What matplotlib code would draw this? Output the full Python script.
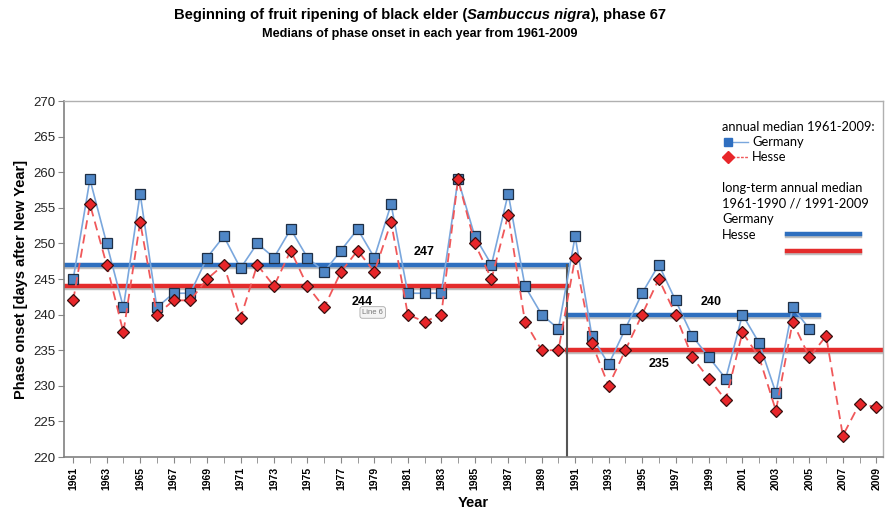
import numpy as np
import matplotlib
matplotlib.use("Agg")
import matplotlib.pyplot as plt
import matplotlib.patheffects as pe
from matplotlib.lines import Line2D

# annual medians of phase onset (days after New Year)
years = list(range(1961, 2010))
germany = [245, 259, 250, 241, 257, 241, 243, 243, 248, 251,
           246.5, 250, 248, 252, 248, 246, 249, 252, 248, 255.5,
           243, 243, 243, 259, 251, 247, 257, 244, 240, 238,
           251, 237, 233, 238, 243, 247, 242, 237, 234, 231,
           240, 236, 229, 241, 238]
hesse = [242, 255.5, 247, 237.5, 253, 240, 242, 242, 245, 247,
         239.5, 247, 244, 249, 244, 241, 246, 249, 246, 253,
         240, 239, 240, 259, 250, 245, 254, 239, 235, 235,
         248, 236, 230, 235, 240, 245, 240, 234, 231, 228,
         237.5, 234, 226.5, 239, 234, 237, 223, 227.5, 227]

# long-term medians for the two periods
periods = ["1961-1990", "1991-2009"]
lt_germany = [247, 240]
lt_hesse = [244, 235]
period_split = 1990.5
germany_end = 2005.6

BLUE_M = "#4f86c6"
BLUE_L = "#7aa7dd"
BLUE_LT = "#2e6fbf"
RED_M = "#e8262a"
RED_L = "#f0585a"
RED_LT = "#e42c2c"

plt.rcParams["font.family"] = ["Liberation Sans", "DejaVu Sans"]

fig = plt.figure(figsize=(8.89, 5.12), dpi=100)
ax = fig.add_axes([64 / 889, 1 - 457 / 512, 819 / 889, 356 / 512])

shadow = [pe.SimpleLineShadow(offset=(0, -1.5), alpha=0.25, shadow_color="black"), pe.Normal()]

# long-term median bars
ax.plot([1960, period_split], [lt_germany[0]] * 2, color=BLUE_LT, lw=3.2, zorder=2, path_effects=shadow)
ax.plot([1960, period_split], [lt_hesse[0]] * 2, color=RED_LT, lw=3.2, zorder=2, path_effects=shadow)
ax.plot([period_split, germany_end], [lt_germany[1]] * 2, color=BLUE_LT, lw=3.2, zorder=2, path_effects=shadow)
ax.plot([period_split, 2010], [lt_hesse[1]] * 2, color=RED_LT, lw=3.2, zorder=2, path_effects=shadow)
ax.plot([period_split, period_split], [220, lt_germany[0]], color="#555555", lw=1.5, zorder=2)

ax.text(1982.0, lt_germany[0] + 0.9, str(lt_germany[0]), fontsize=9, fontweight="bold", ha="center", va="bottom")
ax.text(1978.3, lt_hesse[0] - 1.4, str(lt_hesse[0]), fontsize=9, fontweight="bold", ha="center", va="top")
ax.text(1999.1, lt_germany[1] + 0.9, str(lt_germany[1]), fontsize=9, fontweight="bold", ha="center", va="bottom")
ax.text(1996.0, lt_hesse[1] - 1.1, str(lt_hesse[1]), fontsize=9, fontweight="bold", ha="center", va="top")
ax.text(1978.9, 240.3, "Line 6", fontsize=5.5, color="#777777", ha="center", va="center", zorder=6,
        bbox=dict(boxstyle="round,pad=0.3", fc="#f4f4f4", ec="#aaaaaa", lw=0.6))

# annual series
ax.plot(years[:len(germany)], germany, color=BLUE_L, lw=1.2, marker="s", ms=7,
        mfc=BLUE_M, mec="#1f2f45", mew=0.9, zorder=3)
ax.plot(years, hesse, color=RED_L, lw=1.3, ls=(0, (5, 3)), marker="D", ms=6,
        mfc=RED_M, mec="#3a1010", mew=0.9, zorder=4)

ax.set_xlim(1960.45, 2009.4)
ax.set_ylim(220, 270)
ax.set_yticks(np.arange(220, 271, 5))
ax.set_xticks(years, minor=True)
ax.set_xticks(years[::2])
ax.set_xticklabels([str(y) for y in years[::2]], rotation=90, fontsize=7.5, fontweight="bold")
ax.tick_params(axis="x", which="both", direction="out", length=4, color="#888888", pad=3)
ax.tick_params(axis="y", direction="out", length=4, color="#888888", labelsize=9.5, pad=2)
for lbl in ax.get_yticklabels():
    lbl.set_color("#222222")
for s in ["left", "bottom"]:
    ax.spines[s].set_color("#808080")
    ax.spines[s].set_linewidth(1.2)
for s in ["top", "right"]:
    ax.spines[s].set_color("#b0b0b0")
    ax.spines[s].set_linewidth(1.0)

ax.set_ylabel("Phase onset [days after New Year]", fontsize=10.5, fontweight="bold", labelpad=4)
ax.set_xlabel("Year", fontsize=10.5, fontweight="bold", labelpad=4)

# legend block, placed in figure pixels
def fx(x):
    return x / 889

def fy(y):
    return 1 - y / 512

lg = dict(fontsize=9.3, family=["Lato", "DejaVu Sans"], va="center", ha="left")
fig.text(fx(722), fy(127), "annual median 1961-2009:", **lg)
fig.text(fx(752), fy(142), "Germany", **lg)
fig.text(fx(752), fy(157), "Hesse", **lg)
fig.text(fx(722), fy(188), "long-term annual median", **lg)
fig.text(fx(722), fy(203), "1961-1990 // 1991-2009", **lg)
fig.text(fx(722), fy(219), "Germany", **lg)
fig.text(fx(722), fy(235), "Hesse", **lg)
fig.add_artist(Line2D([fx(728), fx(748)], [fy(142)] * 2, color=BLUE_L, lw=1.0))
fig.add_artist(Line2D([fx(728)], [fy(142)], marker="s", ms=6, mfc="#2f6fc0", mec="#2f6fc0", lw=0))
fig.add_artist(Line2D([fx(728), fx(748)], [fy(157)] * 2, color=RED_L, lw=1.0, ls=(0, (2, 1))))
fig.add_artist(Line2D([fx(728)], [fy(157)], marker="D", ms=6, mfc=RED_M, mec=RED_M, lw=0))
fig.add_artist(Line2D([fx(787), fx(860)], [fy(234)] * 2, color=BLUE_LT, lw=3.2, path_effects=shadow))
fig.add_artist(Line2D([fx(787), fx(860)], [fy(251)] * 2, color=RED_LT, lw=3.2, path_effects=shadow))

# title with italic species name
fig.canvas.draw()
r = fig.canvas.get_renderer()
parts = [("Beginning of fruit ripening of black elder (", "normal"),
         ("Sambuccus nigra", "italic"),
         ("), phase 67", "normal")]
texts = [fig.text(0, fy(15), s, fontsize=10.6, fontweight="bold", style=st, va="center", ha="left")
         for s, st in parts]
widths = [t.get_window_extent(r).width for t in texts]
x0 = 420 - sum(widths) / 2
for t, w in zip(texts, widths):
    t.set_x(x0 / 889)
    x0 += w
fig.text(fx(420), fy(34), "Medians of phase onset in each year from 1961-2009", fontsize=9.1,
         fontweight="bold", ha="center", va="center")

fig.savefig("out.png", dpi=100)
